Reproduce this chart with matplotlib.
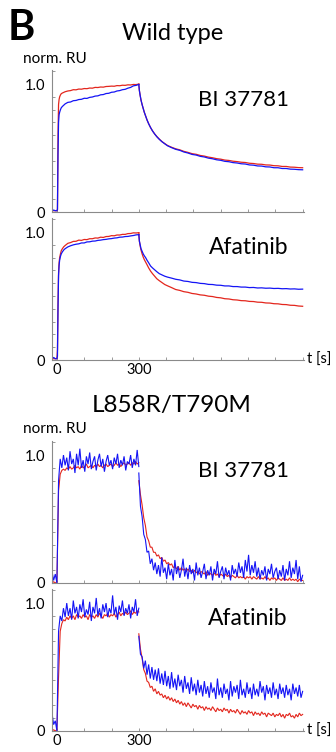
"""Normalised SPR sensorgrams: wild type vs L858R/T790M, BI 37781 and afatinib."""

import numpy as np
import matplotlib

matplotlib.use("Agg")
import matplotlib.pyplot as plt
from matplotlib.ticker import MultipleLocator

plt.rcParams["font.family"] = ["Lato", "DejaVu Sans"]

RED = "#e3261d"
BLUE = "#1414f5"
AXIS_GRAY = "#8a8a8a"

W_PX, H_PX = 336, 752

# ---- wild type: time grids (s) ----
t_wt_on = np.concatenate([[-18, -12, -6, 0, 2, 4, 6, 8, 10, 13, 16, 20, 25], np.arange(30, 301, 10)])
t_wt_off = np.concatenate([[300, 302, 305, 308, 312, 316, 320, 325, 330, 336, 343, 350, 358, 366, 375, 385, 395],
                           np.arange(405, 901, 15)])

# wild type, BI 37781
wt_bi_red_on = [0.01, 0.01, 0.01, 0.01, 0.02, 0.60, 0.84, 0.88, 0.90, 0.915, 0.925, 0.93, 0.935,
                0.94, 0.946, 0.949, 0.956, 0.955, 0.961, 0.96, 0.965, 0.964, 0.969, 0.968, 0.974, 0.973,
                0.977, 0.976, 0.981, 0.982, 0.984, 0.983, 0.988, 0.987, 0.991, 0.99, 0.994, 0.993, 0.997, 0.996, 1.0]
wt_bi_blue_on = [0.01, 0.015, 0.01, 0.01, 0.02, 0.45, 0.70, 0.76, 0.78, 0.80, 0.815, 0.825, 0.835,
                 0.845, 0.857, 0.86, 0.87, 0.872, 0.879, 0.881, 0.889, 0.888, 0.896, 0.899, 0.906, 0.908,
                 0.916, 0.918, 0.926, 0.928, 0.936, 0.938, 0.946, 0.949, 0.956, 0.959, 0.968, 0.974, 0.986, 0.99, 0.997]
wt_bi_red_off = [1.0, 0.95, 0.91, 0.875, 0.84, 0.81, 0.78, 0.75, 0.72, 0.69, 0.66, 0.635, 0.61, 0.59, 0.57, 0.55, 0.535,
                 0.52, 0.506, 0.494, 0.486, 0.474, 0.466, 0.456, 0.451, 0.442, 0.437, 0.429, 0.424, 0.417, 0.413,
                 0.406, 0.403, 0.397, 0.394, 0.389, 0.387, 0.381, 0.379, 0.374, 0.373, 0.368, 0.367, 0.362, 0.361,
                 0.356, 0.356, 0.351, 0.35, 0.347, 0.346]
wt_bi_blue_off = [0.995, 0.95, 0.91, 0.875, 0.84, 0.81, 0.78, 0.75, 0.72, 0.69, 0.66, 0.634, 0.61, 0.588, 0.568, 0.549, 0.533,
                  0.518, 0.503, 0.49, 0.482, 0.469, 0.461, 0.45, 0.445, 0.435, 0.43, 0.421, 0.416, 0.408, 0.404,
                  0.396, 0.393, 0.386, 0.383, 0.377, 0.375, 0.368, 0.366, 0.36, 0.359, 0.353, 0.352, 0.346, 0.346,
                  0.34, 0.34, 0.335, 0.334, 0.331, 0.33]

# wild type, afatinib
wt_afa_red_on = [0.01, 0.01, 0.01, 0.01, 0.08, 0.45, 0.68, 0.76, 0.80, 0.83, 0.855, 0.87, 0.885,
                 0.895, 0.912, 0.918, 0.927, 0.928, 0.937, 0.935, 0.942, 0.941, 0.948, 0.948, 0.954, 0.953,
                 0.96, 0.958, 0.965, 0.966, 0.972, 0.971, 0.977, 0.977, 0.982, 0.982, 0.988, 0.989, 0.994, 0.993, 0.995]
wt_afa_blue_on = [0.01, 0.02, 0.01, 0.01, 0.03, 0.40, 0.66, 0.74, 0.78, 0.81, 0.83, 0.845, 0.86,
                  0.87, 0.884, 0.893, 0.90, 0.905, 0.908, 0.915, 0.915, 0.923, 0.924, 0.929, 0.93, 0.935,
                  0.937, 0.941, 0.943, 0.947, 0.949, 0.953, 0.955, 0.96, 0.961, 0.965, 0.966, 0.97, 0.973, 0.978, 0.98]
wt_afa_red_off = [0.995, 0.93, 0.89, 0.86, 0.83, 0.805, 0.785, 0.765, 0.745, 0.72, 0.695, 0.675, 0.655, 0.635, 0.62, 0.605, 0.59,
                  0.58, 0.566, 0.551, 0.544, 0.534, 0.529, 0.52, 0.516, 0.509, 0.506, 0.499, 0.496, 0.489, 0.486,
                  0.479, 0.477, 0.471, 0.469, 0.464, 0.463, 0.458, 0.457, 0.452, 0.451, 0.446, 0.445, 0.44, 0.439,
                  0.434, 0.433, 0.428, 0.427, 0.422, 0.42]
wt_afa_blue_off = [0.98, 0.93, 0.90, 0.87, 0.85, 0.83, 0.815, 0.80, 0.78, 0.76, 0.735, 0.72, 0.705, 0.69, 0.675, 0.665, 0.655,
                   0.648, 0.64, 0.631, 0.626, 0.617, 0.614, 0.607, 0.605, 0.599, 0.597, 0.591, 0.59, 0.585, 0.584,
                   0.579, 0.579, 0.574, 0.574, 0.57, 0.57, 0.566, 0.567, 0.563, 0.564, 0.561, 0.562, 0.559, 0.56,
                   0.557, 0.558, 0.555, 0.556, 0.553, 0.554]

# ---- L858R/T790M: time grids (s) ----
t_mut_on = np.arange(-18, 301, 6)
t_mut_off = np.arange(300, 901, 6)

# L858R/T790M, BI 37781
mut_bi_red_on = [0.00, 0.01, 0.00, 0.01, 0.72, 0.85, 0.88, 0.89, 0.88,
                 0.90, 0.89, 0.91, 0.89, 0.90, 0.92, 0.90, 0.91, 0.89, 0.92, 0.90, 0.91, 0.93, 0.90, 0.91,
                 0.92, 0.90, 0.92, 0.91, 0.93, 0.91, 0.92, 0.90, 0.92, 0.93, 0.91, 0.92, 0.93, 0.91, 0.92,
                 0.94, 0.92, 0.93, 0.91, 0.93, 0.94, 0.92, 0.93, 0.94, 0.92, 0.94, 0.93, 0.95, 0.93, 0.94]
mut_bi_blue_on = [0.09, 0.02, 0.07, 0.00, 0.80, 0.97, 0.90, 1.00, 0.92,
                  0.98, 0.88, 1.03, 0.93, 0.97, 0.86, 1.01, 0.92, 1.05, 0.90, 0.96, 0.87, 0.99, 0.93, 1.02,
                  0.89, 0.95, 0.99, 0.88, 0.96, 1.01, 0.91, 0.97, 0.87, 0.95, 1.00, 0.92, 0.96, 0.89, 0.98,
                  0.93, 1.01, 0.90, 0.96, 0.92, 0.99, 0.88, 0.95, 0.93, 1.00, 0.90, 0.97, 0.92, 1.04, 0.91]
mut_bi_red_off = [0.80, 0.69, 0.61, 0.51, 0.45, 0.36, 0.33, 0.28, 0.28, 0.24, 0.24, 0.21, 0.22, 0.19, 0.20,
                  0.17, 0.18, 0.15, 0.16, 0.14, 0.15, 0.12, 0.13, 0.11, 0.13, 0.10, 0.12, 0.10, 0.11, 0.09,
                  0.11, 0.09, 0.10, 0.08, 0.10, 0.08, 0.09, 0.07, 0.09, 0.08, 0.07, 0.09, 0.06, 0.08, 0.07,
                  0.06, 0.08, 0.06, 0.07, 0.05, 0.07, 0.06, 0.05, 0.07, 0.05, 0.06, 0.04, 0.06, 0.05, 0.04,
                  0.06, 0.04, 0.05, 0.04, 0.05, 0.03, 0.05, 0.04, 0.05, 0.03, 0.05, 0.04, 0.03, 0.05, 0.03,
                  0.04, 0.03, 0.05, 0.03, 0.04, 0.02, 0.04, 0.03, 0.04, 0.02, 0.04, 0.03, 0.02, 0.04, 0.02,
                  0.03, 0.02, 0.04, 0.02, 0.03, 0.02, 0.03, 0.01, 0.03, 0.02, 0.02]
mut_bi_blue_off = [0.86, 0.60, 0.52, 0.38, 0.34, 0.24, 0.25, 0.15, 0.19, 0.10, 0.16, 0.07, 0.14, 0.05, 0.20,
                   0.08, 0.12, 0.03, 0.15, 0.06, 0.11, 0.02, 0.18, 0.07, 0.13, 0.04, 0.10, 0.19, 0.05, 0.12,
                   0.03, 0.14, 0.07, 0.11, 0.02, 0.16, 0.06, 0.12, 0.04, 0.09, 0.15, 0.03, 0.10, 0.06, 0.13,
                   0.02, 0.11, 0.07, 0.17, 0.04, 0.09, 0.13, 0.03, 0.12, 0.06, 0.10, 0.02, 0.14, 0.07, 0.11,
                   0.05, 0.16, 0.08, 0.13, 0.04, 0.18, 0.09, 0.22, 0.06, 0.14, 0.08, 0.17, 0.05, 0.12, 0.03,
                   0.10, 0.06, 0.13, 0.02, 0.11, 0.07, 0.15, 0.04, 0.09, 0.12, 0.03, 0.10, 0.05, 0.14, 0.02,
                   0.11, 0.06, 0.17, 0.04, 0.12, 0.07, 0.18, 0.03, 0.13, 0.01, 0.06]

# L858R/T790M, afatinib
mut_afa_red_on = [0.00, 0.01, 0.00, 0.01, 0.42, 0.78, 0.84, 0.87, 0.86,
                  0.89, 0.87, 0.90, 0.88, 0.90, 0.87, 0.91, 0.89, 0.90, 0.88, 0.91, 0.89, 0.90, 0.87, 0.91,
                  0.89, 0.90, 0.88, 0.91, 0.89, 0.92, 0.90, 0.88, 0.91, 0.90, 0.92, 0.89, 0.91, 0.90, 0.92,
                  0.89, 0.91, 0.93, 0.90, 0.92, 0.91, 0.93, 0.91, 0.92, 0.94, 0.91, 0.93, 0.92, 0.94, 0.93]
mut_afa_blue_on = [0.14, 0.05, 0.08, 0.00, 0.78, 0.90, 0.86, 0.96, 0.89,
                   1.00, 0.90, 0.96, 0.87, 1.02, 0.92, 0.97, 0.88, 0.99, 0.93, 1.03, 0.89, 0.95, 0.91, 1.01,
                   0.86, 0.97, 0.92, 1.04, 0.90, 0.96, 0.88, 0.99, 0.93, 1.00, 0.89, 0.96, 0.92, 1.06, 0.91,
                   0.97, 0.87, 0.98, 0.93, 1.02, 0.90, 0.96, 0.92, 0.99, 0.88, 0.97, 0.93, 1.03, 0.90, 0.96]
mut_afa_red_off = [0.76, 0.64, 0.57, 0.48, 0.45, 0.39, 0.38, 0.34, 0.35, 0.31, 0.33, 0.29, 0.31, 0.28, 0.29,
                   0.26, 0.28, 0.25, 0.27, 0.24, 0.26, 0.23, 0.25, 0.22, 0.24, 0.21, 0.23, 0.20, 0.22, 0.19,
                   0.22, 0.20, 0.18, 0.21, 0.19, 0.20, 0.17, 0.20, 0.18, 0.19, 0.16, 0.19, 0.17, 0.18, 0.16,
                   0.19, 0.17, 0.15, 0.18, 0.16, 0.17, 0.15, 0.18, 0.16, 0.17, 0.14, 0.17, 0.15, 0.16, 0.14,
                   0.17, 0.15, 0.13, 0.16, 0.14, 0.15, 0.13, 0.16, 0.14, 0.15, 0.12, 0.15, 0.13, 0.14, 0.12,
                   0.15, 0.13, 0.14, 0.11, 0.14, 0.13, 0.12, 0.14, 0.11, 0.13, 0.12, 0.14, 0.11, 0.13, 0.10,
                   0.13, 0.12, 0.14, 0.11, 0.12, 0.10, 0.13, 0.11, 0.14, 0.12, 0.13]
mut_afa_blue_off = [0.74, 0.60, 0.58, 0.49, 0.55, 0.44, 0.52, 0.41, 0.50, 0.40, 0.48, 0.39, 0.49, 0.37, 0.45,
                    0.36, 0.47, 0.35, 0.43, 0.33, 0.46, 0.34, 0.41, 0.32, 0.44, 0.35, 0.40, 0.30, 0.43, 0.33,
                    0.38, 0.29, 0.42, 0.31, 0.37, 0.28, 0.40, 0.30, 0.36, 0.27, 0.39, 0.29, 0.35, 0.26, 0.38,
                    0.30, 0.34, 0.25, 0.41, 0.28, 0.34, 0.26, 0.37, 0.29, 0.33, 0.24, 0.39, 0.27, 0.35, 0.30,
                    0.36, 0.25, 0.40, 0.28, 0.33, 0.26, 0.38, 0.29, 0.34, 0.25, 0.37, 0.28, 0.33, 0.27, 0.39,
                    0.30, 0.35, 0.24, 0.36, 0.29, 0.34, 0.26, 0.38, 0.28, 0.33, 0.25, 0.37, 0.29, 0.34, 0.26,
                    0.36, 0.28, 0.33, 0.24, 0.37, 0.29, 0.34, 0.27, 0.36, 0.26, 0.31]


def fx(x):
    return x / W_PX


def fy(y):
    return 1 - y / H_PX


def add_panel(fig, bottom_px, top_px, show_time=False):
    ax = fig.add_axes([fx(52), fy(bottom_px), 252 / W_PX, (bottom_px - top_px) / H_PX])
    ax.set_xlim(-18, 905)
    ax.set_ylim(0, 1.11)
    ax.spines["top"].set_visible(False)
    ax.spines["right"].set_visible(False)
    for side in ("left", "bottom"):
        ax.spines[side].set_color(AXIS_GRAY)
        ax.spines[side].set_linewidth(0.8)
    ax.set_yticks([0, 1.0])
    ax.set_yticklabels(["0", "1.0"])
    ax.yaxis.set_minor_locator(MultipleLocator(0.1))
    ax.set_xticks([0, 300])
    ax.xaxis.set_minor_locator(MultipleLocator(100))
    ax.tick_params(axis="y", which="major", length=0, labelsize=10.5, pad=5)
    ax.tick_params(axis="both", which="minor", length=2.2, width=0.6, direction="in", color=AXIS_GRAY)
    ax.tick_params(axis="x", which="major", length=2.2, width=0.6, direction="in", color=AXIS_GRAY,
                   labelsize=10.5, pad=2)
    if show_time:
        ax.set_xticklabels(["0", "300"])
        ax.text(1.01, 0.0, "t [s]", transform=ax.transAxes, ha="left", va="center", fontsize=10.5)
    else:
        ax.set_xticklabels([])
    return ax


def draw_traces(ax, t_on, t_off, red_on, blue_on, red_off, blue_off, lw):
    ax.plot(t_on, red_on, color=RED, lw=lw, solid_joinstyle="miter")
    ax.plot(t_off, red_off, color=RED, lw=lw, solid_joinstyle="miter")
    ax.plot(t_on, blue_on, color=BLUE, lw=lw, solid_joinstyle="miter")
    ax.plot(t_off, blue_off, color=BLUE, lw=lw, solid_joinstyle="miter")


fig = plt.figure(figsize=(W_PX / 100, H_PX / 100), dpi=100)

ax1 = add_panel(fig, 212, 70)
draw_traces(ax1, t_wt_on, t_wt_off, wt_bi_red_on, wt_bi_blue_on, wt_bi_red_off, wt_bi_blue_off, 0.9)
ax2 = add_panel(fig, 360, 218, show_time=True)
draw_traces(ax2, t_wt_on, t_wt_off, wt_afa_red_on, wt_afa_blue_on, wt_afa_red_off, wt_afa_blue_off, 0.9)
ax3 = add_panel(fig, 583, 441)
draw_traces(ax3, t_mut_on, t_mut_off, mut_bi_red_on, mut_bi_blue_on, mut_bi_red_off, mut_bi_blue_off, 0.8)
ax4 = add_panel(fig, 731, 589, show_time=True)
draw_traces(ax4, t_mut_on, t_mut_off, mut_afa_red_on, mut_afa_blue_on, mut_afa_red_off, mut_afa_blue_off, 0.8)

fig.text(fx(8), fy(40), "B", fontsize=30, fontweight="bold", ha="left", va="baseline")
fig.text(fx(173), fy(40), "Wild type", fontsize=17, ha="center", va="baseline")
fig.text(fx(172), fy(412), "L858R/T790M", fontsize=17.5, ha="center", va="baseline")
for base in (63, 433):
    fig.text(fx(23), fy(base), "norm. RU", fontsize=11, ha="left", va="baseline")
fig.text(fx(243), fy(106), "BI 37781", fontsize=16, ha="center", va="baseline")
fig.text(fx(249), fy(254), "Afatinib", fontsize=16.5, ha="center", va="baseline")
fig.text(fx(243), fy(477), "BI 37781", fontsize=16, ha="center", va="baseline")
fig.text(fx(248), fy(625), "Afatinib", fontsize=16.5, ha="center", va="baseline")

fig.savefig("out.png", dpi=100, facecolor="white")
